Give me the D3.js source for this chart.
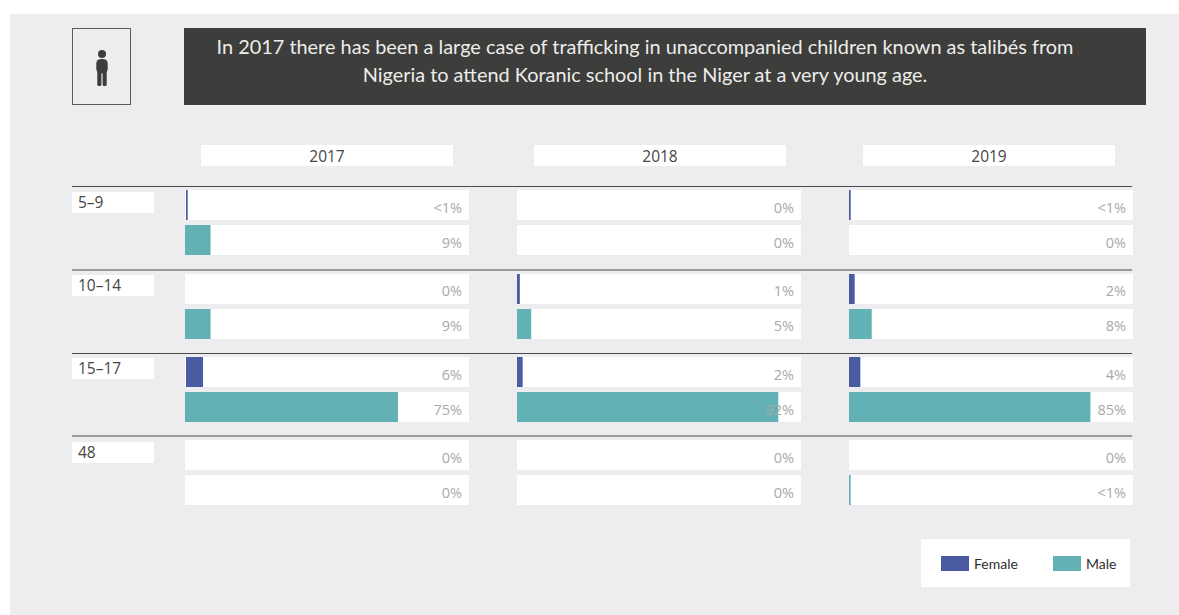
<!DOCTYPE html>
<html>
<head>
<meta charset="utf-8">
<script src="https://cdn.jsdelivr.net/npm/d3@7"></script>
<style>
html,body{margin:0;padding:0;background:#fff;overflow:hidden}
svg{display:block}
svg text{opacity:.995}
</style>
</head>
<body>
<svg id="chart" width="1179" height="615"></svg>
<script>
const years = ["2017", "2018", "2019"];
const ageGroups = ["5–9", "10–14", "15–17", "48"];
const sexes = ["Female", "Male"];

// Shares per age group, in percent, one row per sex.
const values2017 = [[0.6, 9], [0, 9], [6, 75], [0, 0]];
const values2018 = [[0, 0], [1, 5], [2, 92], [0, 0]];
const values2019 = [[0.6, 0], [2, 8], [4, 85], [0, 0.6]];

const labels2017 = [["<1%", "9%"], ["0%", "9%"], ["6%", "75%"], ["0%", "0%"]];
const labels2018 = [["0%", "0%"], ["1%", "5%"], ["2%", "92%"], ["0%", "0%"]];
const labels2019 = [["<1%", "0%"], ["2%", "8%"], ["4%", "85%"], ["0%", "<1%"]];

const titleLines = [
  "In 2017 there has been a large case of trafficking in unaccompanied children known as talibés from",
  "Nigeria to attend Koranic school in the Niger at a very young age."
];

const valuesByYear = [values2017, values2018, values2019];
const labelsByYear = [labels2017, labels2018, labels2019];

const colour = d3.scaleOrdinal().domain(sexes).range(["#4a5ba2", "#61b1b5"]);
const panelBg = "#edecee";
const ink = "#3d3d3b";
const bodyFont = "'Open Sans', sans-serif";
const titleFont = "Lato, sans-serif";

const svg = d3.select("#chart");

// Backdrop panel
svg.append("rect").attr("x", 10).attr("y", 14).attr("width", 1169).attr("height", 601).attr("fill", panelBg);

// Pictogram box
svg.append("rect").attr("x", 72.5).attr("y", 28.5).attr("width", 58).attr("height", 76)
  .attr("fill", "none").attr("stroke", "#5c5c5c").attr("stroke-width", 1);
const icon = svg.append("g").attr("fill", ink);
icon.append("circle").attr("cx", 102).attr("cy", 54).attr("r", 4);
icon.append("rect").attr("x", 96.3).attr("y", 59).attr("width", 11.4).attr("height", 14.5).attr("rx", 4.5);
icon.append("rect").attr("x", 97.3).attr("y", 68).attr("width", 4.1).attr("height", 18).attr("rx", 1.5);
icon.append("rect").attr("x", 102.6).attr("y", 68).attr("width", 4.1).attr("height", 18).attr("rx", 1.5);

// Headline banner
svg.append("rect").attr("x", 184).attr("y", 28).attr("width", 962).attr("height", 77).attr("fill", ink);
svg.append("g").selectAll("text").data(titleLines).join("text")
  .attr("x", 645).attr("y", (d, i) => 54 + i * 28)
  .attr("text-anchor", "middle")
  .attr("font-family", titleFont).attr("font-weight", 400).attr("font-size", 19.9)
  .attr("fill", "#eeeeec")
  .text(d => d);

// Layout bands: one column per year, one block per age group
const columnLeft = d3.scaleOrdinal().domain(years).range([185, 517, 849]);
const headerLeft = d3.scaleOrdinal().domain(years).range([201, 534, 863]);
const blockTop = d3.scaleOrdinal().domain(ageGroups).range([190, 274, 357, 440]);
const ruleY = d3.scaleOrdinal().domain(ageGroups).range([186.5, 270, 353.5, 436]);
const boxTop = d3.scaleOrdinal().domain(ageGroups).range([192, 275, 358, 442]);
const labelShift = d3.scaleOrdinal().domain(ageGroups).range([0, -1, 0, 0]);
const rowOffset = d3.scaleOrdinal().domain(sexes).range([0, 35]);
const x = d3.scaleLinear().domain([0, 100]).range([0, 284]);
const rowHeight = 30;

// Year headers
const head = svg.append("g").selectAll("g").data(years).join("g")
  .attr("transform", d => `translate(${headerLeft(d)},145)`);
head.append("rect").attr("width", 252).attr("height", 21).attr("fill", "#fff");
head.append("text").attr("x", 126).attr("y", 16.5).attr("text-anchor", "middle")
  .attr("font-family", bodyFont).attr("font-size", 15.5).attr("fill", "#454545").text(d => d);

// Age group rules and labels
svg.append("g").selectAll("line").data(ageGroups).join("line")
  .attr("x1", 72).attr("x2", 1132).attr("y1", d => ruleY(d)).attr("y2", d => ruleY(d))
  .attr("stroke", "#4a4a4a").attr("stroke-width", 1.2);
const block = svg.append("g").selectAll("g").data(ageGroups).join("g")
  .attr("transform", d => `translate(0,${boxTop(d)})`);
block.append("rect").attr("x", 72).attr("width", 82).attr("height", 21).attr("fill", "#fff");
block.append("text").attr("x", 78).attr("y", 15.6).attr("font-family", bodyFont)
  .attr("font-size", 15.5).attr("fill", "#454545").text(d => d);

// Rows: white track, coloured bar, then the value label on top
const rows = [];
years.forEach((year, yi) => ageGroups.forEach((age, ai) => sexes.forEach((sex, si) => {
  rows.push({year, age, sex, value: valuesByYear[yi][ai][si], label: labelsByYear[yi][ai][si]});
})));
const barInset = d => (d.year === "2017" && d.sex === "Female" ? 1 : 0);
const row = svg.append("g").selectAll("g").data(rows).join("g")
  .attr("transform", d => `translate(${columnLeft(d.year)},${blockTop(d.age) + rowOffset(d.sex)})`);
row.append("rect").attr("width", x(100)).attr("height", rowHeight).attr("fill", "#fff");
row.append("rect").attr("x", barInset).attr("width", d => x(d.value)).attr("height", rowHeight).attr("fill", d => colour(d.sex));
row.append("text").attr("x", x(100) - 7).attr("y", d => 23 + labelShift(d.age)).attr("text-anchor", "end")
  .attr("font-family", bodyFont).attr("font-size", 14.5).attr("fill", "#a9a9a9")
  .text(d => d.label);

// Legend
svg.append("rect").attr("x", 921).attr("y", 539).attr("width", 209).attr("height", 48).attr("fill", "#fff");
const legendX = d3.scaleOrdinal().domain(sexes).range([941, 1053]);
const legend = svg.append("g").selectAll("g").data(sexes).join("g")
  .attr("transform", d => `translate(${legendX(d)},556)`);
legend.append("rect").attr("width", 28).attr("height", 15).attr("fill", d => colour(d));
legend.append("text").attr("x", 33).attr("y", 12.5).attr("font-family", titleFont)
  .attr("font-size", 14).attr("fill", "#2f2f2f").text(d => d);
</script>
</body>
</html>
